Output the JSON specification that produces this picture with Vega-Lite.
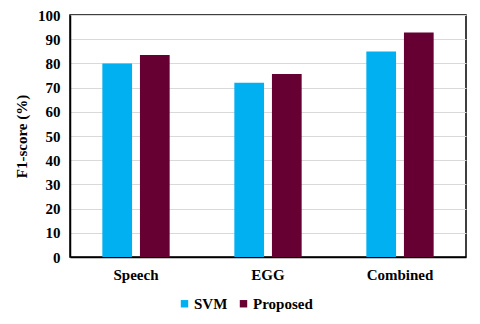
{
  "$schema": "https://vega.github.io/schema/vega-lite/v6.json",
  "autosize": {"type": "none"},
  "width": 396,
  "height": 242,
  "padding": {"left": 70, "top": 15, "right": 14, "bottom": 67},
  "background": "white",
  "config": {
    "font": "Liberation Serif",
    "view": {"stroke": "#000000", "strokeWidth": 1.5}
  },
  "data": {
    "values": [
      {"category": "Speech", "method": "SVM", "f1": 80.0},
      {"category": "Speech", "method": "Proposed", "f1": 83.5},
      {"category": "EGG", "method": "SVM", "f1": 72.0},
      {"category": "EGG", "method": "Proposed", "f1": 75.6},
      {"category": "Combined", "method": "SVM", "f1": 84.9},
      {"category": "Combined", "method": "Proposed", "f1": 92.8}
    ]
  },
  "mark": {"type": "bar"},
  "encoding": {
    "x": {
      "field": "category",
      "type": "nominal",
      "sort": ["Speech", "EGG", "Combined"],
      "scale": {"paddingInner": 0.49, "paddingOuter": 0.245},
      "axis": {
        "title": null,
        "labelAngle": 0,
        "labelFont": "Liberation Serif",
        "labelFontWeight": "bold",
        "labelFontSize": 15,
        "labelColor": "#000000",
        "labelPadding": 10,
        "ticks": false,
        "domainColor": "#000000",
        "domainWidth": 1.5
      }
    },
    "xOffset": {
      "field": "method",
      "type": "nominal",
      "sort": ["SVM", "Proposed"],
      "scale": {"paddingInner": 0.21, "paddingOuter": 0}
    },
    "y": {
      "field": "f1",
      "type": "quantitative",
      "scale": {"domain": [0, 100], "nice": false},
      "axis": {
        "title": "F1-score (%)",
        "titleFont": "Liberation Serif",
        "titleFontWeight": "bold",
        "titleFontSize": 15,
        "titleColor": "#000000",
        "titlePadding": 8,
        "values": [0, 10, 20, 30, 40, 50, 60, 70, 80, 90, 100],
        "labelFont": "Liberation Serif",
        "labelFontWeight": "bold",
        "labelFontSize": 15,
        "labelColor": "#000000",
        "labelPadding": 10,
        "ticks": false,
        "domainColor": "#000000",
        "domainWidth": 1.5,
        "gridColor": "#d9d9d9",
        "gridWidth": 1
      }
    },
    "color": {
      "field": "method",
      "type": "nominal",
      "sort": ["SVM", "Proposed"],
      "scale": {"domain": ["SVM", "Proposed"], "range": ["#00b0f0", "#660033"]},
      "legend": {
        "title": null,
        "orient": "none",
        "direction": "horizontal",
        "legendX": 107,
        "legendY": 281,
        "symbolType": "square",
        "symbolSize": 55,
        "symbolOpacity": 1,
        "labelFont": "Liberation Serif",
        "labelFontWeight": "bold",
        "labelFontSize": 15,
        "labelColor": "#000000",
        "columnPadding": 8,
        "labelOffset": 2
      }
    }
  }
}
